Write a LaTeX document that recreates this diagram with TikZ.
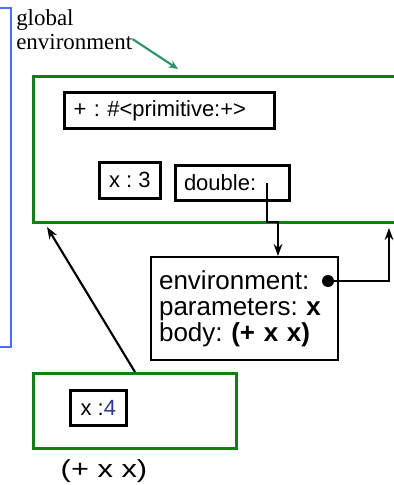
\documentclass[tikz,border=0pt]{standalone}
\usepackage{fontspec}
\setmainfont{Liberation Sans}
\newfontfamily\labserif{Liberation Serif}
\usetikzlibrary{arrows.meta}
\frenchspacing
\definecolor{envgreen}{RGB}{16,128,16}
\definecolor{frameblue}{RGB}{72,110,250}
\definecolor{labgreen}{RGB}{46,150,100}
\definecolor{valblue}{RGB}{52,52,150}
\tikzset{
    ENV/.style ={rectangle,draw=envgreen,line width=2.2pt,anchor=north west,inner sep=0pt},
    BX/.style ={rectangle,draw,line width=2pt,anchor=north west,font=\fontsize{16.5}{18}\selectfont},
    BL/.style ={BX,align=left,inner xsep=6.5pt},
    PTR/.style ={line width=1.6pt,-{Stealth[length=9pt,width=6.5pt]}},
    TXT/.style ={inner sep=0pt}
}
\begin{document}
\begin{tikzpicture}[x=0.75pt,y=-0.75pt]
        \useasboundingbox (0,0) rectangle (393,485);
        \draw[frameblue,line width=1.8pt] (-10,8) rectangle (11,347);
        % global frame and its label
        \node[ENV,minimum width=280pt,minimum height=109.5pt] (glob) at (32,75){};
        \node[TXT,anchor=north west,align=left,font=\labserif\fontsize{17.2}{18}\selectfont] (glab) at (16,9){global\\environment};
        \coordinate (gtip) at (178,69);
        \draw[labgreen,line width=1.6pt,-{Stealth[length=7pt,width=6pt]}] (glab.south east)++(0pt,8pt) -- (gtip);
        % bindings
        \node[BL,minimum width=157.5pt,minimum height=27pt,text width=143.5pt] (prim) at (63,91){+ : \#<primitive:+>};
        \node[BX,minimum width=45.75pt,minimum height=27pt] (xthree) at (98,161){x : 3};
        \node[BL,minimum width=85.5pt,minimum height=26.25pt,text width=72.5pt,inner xsep=6pt] (dbl) at (174,164){double:};
        % procedure object
        \node[BX,align=left,line width=1.6pt,minimum width=140.25pt,minimum height=77.25pt,text width=128.25pt,inner xsep=6pt,font=\fontsize{19.5}{19.5}\selectfont] (proc) at (150,256){environment:\\parameters: \textbf{x}\\body: \textbf{(+ x x)}};
        \coordinate (dptr) at (267,183);
        \coordinate (bend) at (278,222);
        \draw[PTR] (dptr) |- (bend) -- (bend |- proc.north);
        \coordinate (dot) at (328,281);
        \coordinate (gret) at (389,228);
        \fill (dot) circle (4.5pt);
        \draw[PTR] (dot) -| (gret);
        % new frame E1
        \node[ENV,minimum width=152.25pt,minimum height=56.25pt] (eone) at (32,372){};
        \node[BX,minimum width=42pt,minimum height=26.25pt,inner sep=0pt] (xfour) at (69,389){x :\textcolor{valblue}{4}};
        \coordinate (gptr) at (47,227);
        \draw[PTR] (eone.north) -- (gptr);
        \node[TXT,font=\fontsize{18.5}{20}\selectfont] (expr) at (104,471){\scalebox{1.25}[1]{(+ x x)}};
    \end{tikzpicture}
\end{document}
